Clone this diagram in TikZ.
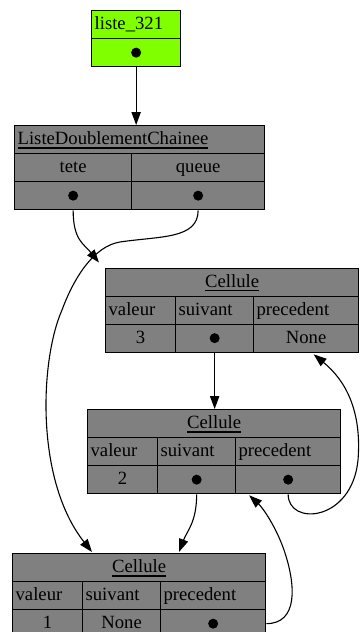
\documentclass[tikz,border=0pt]{standalone}
\usepackage{fontspec}
\setmainfont{Liberation Serif}
\usetikzlibrary{arrows.meta,calc}
\definecolor{cellgray}{RGB}{128,128,128}
\definecolor{varfill}{RGB}{127,255,0}
% underlined title text with a thicker rule
\newcommand\ulined[1]{\setbox0=\hbox{#1}\rlap{\rule[-3.6pt]{\wd0}{1.3pt}}\box0}
\begin{document}
\begin{tikzpicture}[x=1pt,y=-1pt,
  every node/.style={font=\fontsize{18.67pt}{22pt}\selectfont},
  cell/.style={draw=black, line width=1.3pt, fill=cellgray, inner xsep=3pt,
    inner ysep=0pt, minimum height=28pt, anchor=north west,
    text height=13pt, text depth=2.4pt, text width=#1},
  link/.style={line width=1.1pt, -{Triangle[length=13pt,width=9.3pt]}},
  ptrdot/.style={fill=black}]
\useasboundingbox (0,0) rectangle (359,632);

% variable liste_321
\node[cell=83pt, fill=varfill, align=left] (l321title) at (91,10) {liste\_321};
\node[cell=83pt, fill=varfill] (l321ptr) at (91,38) {};

% ListeDoublementChainee object
\node[cell=244pt, align=left] (ldctitle) at (14,125) {\ulined{ListeDoublementChainee}};
\node[cell=111pt, align=center] (ldctete) at (14,153) {tete};
\node[cell=127pt, align=center] (ldcqueue) at (131,153) {queue};
\node[cell=111pt] (ldcteteptr) at (14,181) {};
\node[cell=127pt] (ldcqueueptr) at (131,181) {};

% Cellule 3
\node[cell=247pt, align=center] (c3title) at (105,267.5) {\ulined{Cellule}};
\node[cell=64pt, align=left] (c3vl) at (105,295.5) {valeur};
\node[cell=72pt, align=left] (c3sl) at (175,295.5) {suivant};
\node[cell=99pt, align=left] (c3pl) at (253,295.5) {precedent};
\node[cell=64pt, align=center] (c3v) at (105,323.5) {3};
\node[cell=72pt] (c3s) at (175,323.5) {};
\node[cell=99pt, align=center] (c3p) at (253,323.5) {None};

% Cellule 2
\node[cell=247pt, align=center] (c2title) at (87,409) {\ulined{Cellule}};
\node[cell=64pt, align=left] (c2vl) at (87,437) {valeur};
\node[cell=72pt, align=left] (c2sl) at (157,437) {suivant};
\node[cell=99pt, align=left] (c2pl) at (235,437) {precedent};
\node[cell=64pt, align=center] (c2v) at (87,465) {2};
\node[cell=72pt] (c2s) at (157,465) {};
\node[cell=99pt] (c2p) at (235,465) {};

% Cellule 1
\node[cell=247pt, align=center] (c1title) at (12,553) {\ulined{Cellule}};
\node[cell=64pt, align=left] (c1vl) at (12,581) {valeur};
\node[cell=72pt, align=left] (c1sl) at (82,581) {suivant};
\node[cell=99pt, align=left] (c1pl) at (160,581) {precedent};
\node[cell=64pt, align=center] (c1v) at (12,609) {1};
\node[cell=72pt, align=center] (c1s) at (82,609) {None};
\node[cell=99pt] (c1p) at (160,609) {};

% pointer dots
\foreach \p in {l321ptr, ldcteteptr, ldcqueueptr, c3s, c2s, c2p, c1p}
  \fill[ptrdot] (\p.center) circle[radius=5pt];

% references
\draw[link] (l321ptr.south) -- (l321ptr.south |- ldctitle.north);
\draw[link] (ldcteteptr.south) .. controls +(0,30) and ($(c3title.north west)+(-21,-23.5)$)
  .. ($(c3title.north west)+(-6,-5)$);
\draw[link] (ldcqueueptr.south) .. controls +(0,29) and (160,236) .. (120,242)
  .. controls (95,246) and (75,275) .. (62,310)
  .. controls (40,360) and (35,480) .. ($(c1title.north west)+(80,-1)$);
\draw[link] (c3s.south) -- (c3s.south |- c2title.north);
\draw[link] (c2s.south) .. controls +(0,28) and ($(c1title.north west)+(175,-22)$)
  .. ($(c1title.north west)+(167,-1)$);
\draw[link] (c2p.south) .. controls +(0,32) and (352,522) .. (358,460)
  .. controls (362,410) and (345,380) .. ($(c3p.south)+(7.5,1.5)$);
\draw[link] (c1p.east) .. controls +(32,0) and (296,585) .. (284,550)
  .. controls (276,527) and (263,508) .. ($(c2p.south)+(-39,1)$);
\end{tikzpicture}
\end{document}
